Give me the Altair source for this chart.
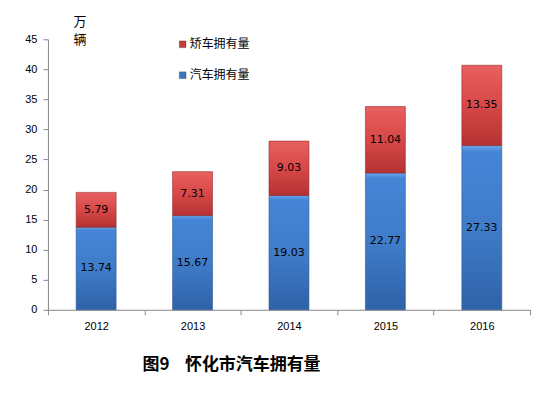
import altair as alt
import pandas as pd

years = ["2012", "2013", "2014", "2015", "2016"]
car_total = [13.74, 15.67, 19.03, 22.77, 27.33]   # 汽车拥有量
sedan = [5.79, 7.31, 9.03, 11.04, 13.35]          # 矫车拥有量

df = pd.DataFrame({"year": years, "car": car_total, "sedan": sedan})

font = "Noto Sans CJK SC"

x_enc = alt.X("year:N", title=None, sort=years,
              axis=alt.Axis(labelAngle=0, tickBand="extent", domainColor="#888888",
                            tickColor="#888888", tickSize=5, labelFontSize=11,
                            labelColor="#000000", labelFont="Liberation Sans", labelPadding=6),
              scale=alt.Scale(paddingInner=0, paddingOuter=0))
y_scale = alt.Scale(domain=[0, 45])
y_axis = alt.Axis(values=list(range(0, 46, 5)), grid=False, domainColor="#888888",
                  tickColor="#888888", tickSize=5, labelFontSize=11, labelColor="#000000",
                  labelFont="Liberation Sans", labelPadding=6, labelOverlap=False)


def yq(field):
    return alt.Y(field, scale=y_scale, axis=y_axis, title=None)


blue_grad = alt.Gradient(gradient="linear", x1=0, x2=0, y1=0, y2=1,
                         stops=[alt.GradientStop(color="#6aa6ec", offset=0),
                                alt.GradientStop(color="#4585d6", offset=0.04),
                                alt.GradientStop(color="#3f7cc9", offset=0.5),
                                alt.GradientStop(color="#2f62a8", offset=1)])
red_grad = alt.Gradient(gradient="linear", x1=0, x2=0, y1=0, y2=1,
                        stops=[alt.GradientStop(color="#e86060", offset=0),
                               alt.GradientStop(color="#d84848", offset=0.5),
                               alt.GradientStop(color="#b53232", offset=1)])

base = alt.Chart(df)

blue = base.mark_bar(size=40, color=blue_grad, stroke="#2a5590", strokeWidth=0.6).encode(
    x=x_enc,
    y=yq("car:Q"),
)

red = base.transform_calculate(total="datum.car + datum.sedan").mark_bar(
    size=40, color=red_grad, stroke="#952a2a", strokeWidth=0.6).encode(
    x=x_enc,
    y=yq("car:Q"),
    y2=alt.Y2("total:Q"),
)

blue_lbl = base.transform_calculate(mid="datum.car / 2").mark_text(
    fontSize=11, font="DejaVu Sans", color="#000000").encode(
    x=x_enc,
    y=yq("mid:Q"),
    text=alt.Text("car:Q", format=".2f"),
)

red_lbl = base.transform_calculate(mid="datum.car + datum.sedan / 2").mark_text(
    fontSize=11, font="DejaVu Sans", color="#000000").encode(
    x=x_enc,
    y=yq("mid:Q"),
    text=alt.Text("sedan:Q", format=".2f"),
)

unit = alt.Chart(pd.DataFrame({"t": ["万", "辆"], "yy": [-17, 1]})).mark_text(
    fontSize=13, font=font, color="#000000", align="center").encode(
    x=alt.value(32), y=alt.Y("yy:Q", scale=None), text="t:N")

legend_df = pd.DataFrame({"name": ["矫车拥有量", "汽车拥有量"], "ly": [5, 36],
                          "c": ["#c83a3a", "#3a74c0"]})
leg_sq = alt.Chart(legend_df).mark_square(size=45, opacity=1, stroke="#444444", strokeWidth=0.4).encode(
    x=alt.value(135), y=alt.Y("ly:Q", scale=None),
    color=alt.Color("c:N", scale=None, legend=None))
leg_txt = alt.Chart(legend_df).mark_text(fontSize=12, font=font, align="left", color="#000000").encode(
    x=alt.value(142), y=alt.Y("ly:Q", scale=None), text="name:N")

title = alt.Chart(pd.DataFrame({"t": ["图9\u00a0\u00a0\u00a0\u00a0怀化市汽车拥有量"]})).mark_text(
    fontSize=17, font=font, fontWeight="bold", color="#000000").encode(
    x=alt.value(184), y=alt.value(326), text="t:N")

chart = alt.layer(blue, red, blue_lbl, red_lbl, unit, leg_sq, leg_txt, title).properties(
    width=483, height=271,
    autosize=alt.AutoSizeParams(type="none"),
    padding={"left": 40, "top": 31, "right": 10, "bottom": 70},
).configure_view(stroke=None)

chart.save("out.html", embed_options={"renderer": "svg", "actions": False})
